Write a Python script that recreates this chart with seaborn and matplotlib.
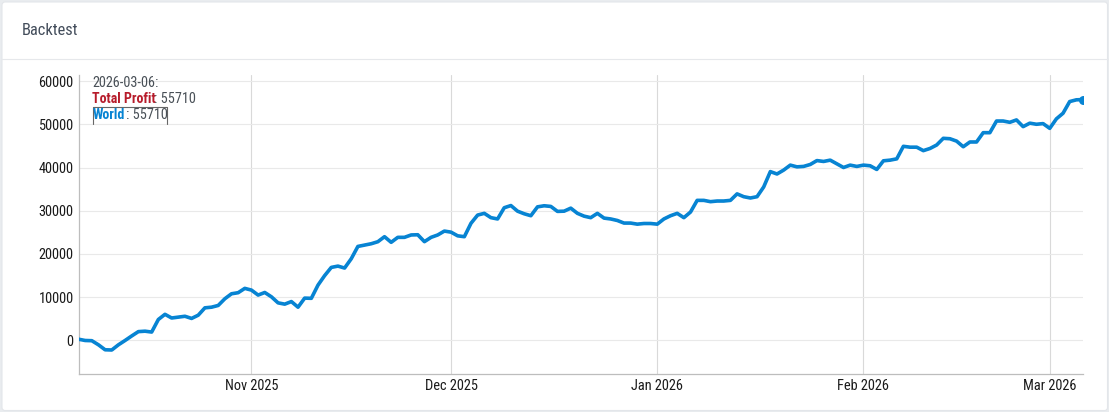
import numpy as np
import pandas as pd
import matplotlib
matplotlib.use('Agg')
import matplotlib.pyplot as plt
from matplotlib.patches import FancyBboxPatch
import seaborn as sns

start_date = '2025-10-06'
world = [300, 0, -50, -1000, -2150, -2200, -1000, 0, 1050, 2050, 2150, 1950, 4850, 6050, 5200, 5400,
         5600, 5100, 5850, 7550, 7700, 8100, 9650, 10800, 11050, 12050, 11650, 10500, 11100, 10100,
         8700, 8400, 9000, 7700, 9800, 9750, 12800, 15000, 16900, 17200, 16750, 18900, 21750, 22050,
         22370, 22840, 24000, 22700, 23850, 23850, 24400, 24450, 22850, 23850, 24400, 25300, 25050,
         24200, 24000, 27100, 29000, 29400, 28400, 28100, 30700, 31200, 29900, 29300, 28850, 30900,
         31150, 31000, 29850, 29900, 30600, 29400, 28750, 28400, 29400, 28300, 28100, 27750, 27150,
         27150, 26900, 27050, 27050, 26900, 28100, 28850, 29400, 28400, 29700, 32400, 32400, 32100,
         32250, 32250, 32400, 33900, 33250, 32950, 33250, 35500, 39050, 38500, 39400, 40550, 40150,
         40250, 40700, 41600, 41400, 41700, 40850, 40000, 40550, 40250, 40550, 40400, 39550, 41550,
         41700, 42000, 44900, 44700, 44700, 43900, 44400, 45200, 46750, 46650, 46100, 44800, 45900,
         45900, 48050, 48050, 50750, 50750, 50450, 51000, 49450, 50250, 50000, 50150, 49050, 51250,
         52550, 55250, 55650, 55710]
total_profit = list(world)
y_ticks = [0, 10000, 20000, 30000, 40000, 50000, 60000]
x_ticks = ['2025-11-01', '2025-12-01', '2026-01-01', '2026-02-01', '2026-03-01']
x_labels = ['Nov 2025', 'Dec 2025', 'Jan 2026', 'Feb 2026', 'Mar 2026']

W, H = 1109, 412
BLUE = '#0784d3'

sns.set_style('white')
plt.rcParams['font.family'] = ['Roboto Condensed', 'Roboto', 'DejaVu Sans']

dates = pd.date_range(start_date, periods=len(world), freq='D')
df = pd.DataFrame({'date': dates, 'world': world, 'total_profit': total_profit})

fig = plt.figure(figsize=(W / 100, H / 100), dpi=100, facecolor='#e9ecef')
bg = fig.add_axes([0, 0, 1, 1], zorder=0)
bg.set_xlim(0, W)
bg.set_ylim(H, 0)
bg.axis('off')
bg.add_patch(FancyBboxPatch((2, 2), W - 3.5, H - 3.5, boxstyle='round,pad=0,rounding_size=3',
                            fc='white', ec='#e3e6ea', lw=0.8))
bg.plot([2, W - 1.5], [58.5, 58.5], color='#e6e8eb', lw=0.8)
bg.text(22, 30, 'Backtest', fontsize=11.8, color='#434d5b', va='center')

ax = fig.add_axes([78.5 / W, 1 - 374 / H, (1083 - 78.5) / W, (374 - 75) / H], zorder=1)
ax.patch.set_alpha(0)
sns.lineplot(data=df, x='date', y='total_profit', ax=ax, color='#c4161c', lw=1.5, zorder=3)
sns.lineplot(data=df, x='date', y='world', ax=ax, color=BLUE, lw=2.6, zorder=4)
sns.scatterplot(data=df.tail(1), x='date', y='world', ax=ax, color=BLUE, s=42, zorder=5, linewidth=0)

ax.set_xlim(dates[0], dates[-1])
ax.set_ylim(-7750, 61390)
ax.set_yticks(y_ticks)
ax.set_xticks(pd.to_datetime(x_ticks))
ax.set_xticklabels(x_labels)
ax.set_xlabel('')
ax.set_ylabel('')
ax.grid(True, axis='y', color='#e9e9e9', lw=0.8)
ax.grid(True, axis='x', color='#d9d9d9', lw=0.8)
ax.tick_params(axis='both', length=0, labelsize=10.4, labelcolor='#1a1a1a', pad=3.5)
sns.despine(ax=ax)
for s in ['left', 'bottom']:
    ax.spines[s].set_color('#bdbdbd')
    ax.spines[s].set_linewidth(0.9)

over = fig.add_axes([0, 0, 1, 1], zorder=2)
over.set_xlim(0, W)
over.set_ylim(H, 0)
over.axis('off')
c = '#495057'
fs = 10.3
over.text(92, 83, '2026-03-06:', fontsize=fs, color=c, va='center')
over.text(92, 99, 'Total Profit', fontsize=10, color='#b71c2b', va='center', fontweight='bold')
over.text(154, 99, ': 55710', fontsize=fs, color=c, va='center')
over.text(93, 115, 'World', fontsize=10, color=BLUE, va='center', fontweight='bold')
over.text(125.5, 115, ': 55710', fontsize=fs, color=c, va='center')
over.plot([92.5, 92.5, 166.5, 166.5], [123.5, 106.5, 106.5, 123.5], color='#666666', lw=0.8)

fig.savefig('out.png', dpi=100, facecolor=fig.get_facecolor())
